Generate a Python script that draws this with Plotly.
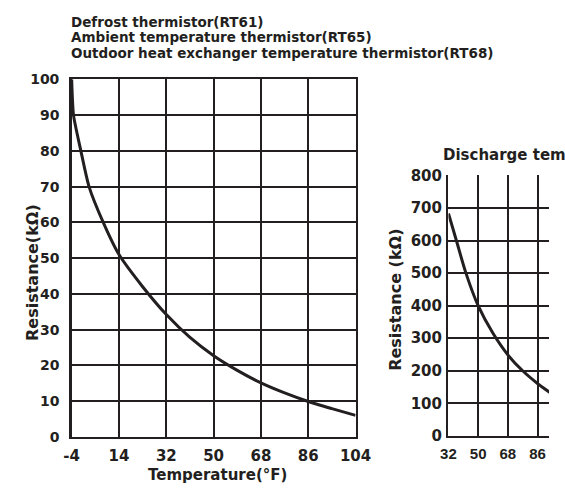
import plotly.graph_objects as go

# ---- data ----
# Defrost / Ambient / Outdoor heat exchanger thermistor (RT61, RT65, RT68)
left_temp_f = [-4, -3.3, -0.5, 2.6, 8, 14, 23, 32, 41, 50, 59, 68, 77, 86, 95, 104]
left_res_k = [100, 90, 80, 70, 60, 51, 42, 34.2, 27.8, 22.7, 18.6, 15.1, 12.3, 9.9, 7.9, 6.0]
left_xticks = [-4, 14, 32, 50, 68, 86, 104]
left_xticktext = ["-4", "14", "32", "50", "68", "86", "104"]
left_yticks = [0, 10, 20, 30, 40, 50, 60, 70, 80, 90, 100]

# Discharge temperature thermistor (cut off at right edge)
right_temp_f = [32, 36.8, 42.6, 50, 59, 68, 77, 86, 95]
right_res_k = [683, 600, 500, 400, 315, 249, 200, 161, 128]
right_xticks = [32, 50, 68, 86, 104, 122, 140]
right_yticks = [0, 100, 200, 300, 400, 500, 600, 700, 800]

title_lines = [
    "Defrost thermistor(RT61)",
    "Ambient temperature thermistor(RT65)",
    "Outdoor heat exchanger temperature thermistor(RT68)",
]
right_title = "Discharge temperature thermistor(RT62)"

W, H = 565, 495
INK = "#231f20"
FONT = "DejaVu Sans"

def px(x):
    return x / W

def py(y):
    return 1 - y / H

fig = go.Figure()
fig.add_trace(go.Scatter(x=left_temp_f, y=left_res_k, mode="lines",
                         line=dict(color=INK, width=3, shape="spline", smoothing=0.6),
                         xaxis="x", yaxis="y", hoverinfo="skip", showlegend=False))
fig.add_trace(go.Scatter(x=right_temp_f, y=right_res_k, mode="lines",
                         line=dict(color=INK, width=3, shape="spline", smoothing=0.8),
                         xaxis="x2", yaxis="y2", hoverinfo="skip", showlegend=False))

axis_common = dict(showgrid=True, gridcolor=INK, gridwidth=2, zeroline=False,
                   showline=True, linecolor=INK, linewidth=2.5, ticks="", ticklen=0,
                   fixedrange=True)

# right panel: 18 degF per 31 px, 32 degF at x=460, cut by the right edge
right_x_end = 32 + (W - 460) / 31 * 18

fig.update_layout(
    width=W, height=H,
    margin=dict(l=0, r=0, t=0, b=0),
    paper_bgcolor="white", plot_bgcolor="white",
    showlegend=False,
    xaxis=dict(axis_common, domain=[px(66.5), px(363)], range=[-4, 104],
               tickvals=left_xticks, ticktext=left_xticktext, mirror=True, anchor="y",
               tickfont=dict(family=FONT, size=15, color=INK, weight="bold"),
               ticklabelstandoff=4),
    yaxis=dict(axis_common, domain=[py(444), py(73)], range=[0, 100],
               tickvals=left_yticks, mirror=True, anchor="x",
               tickfont=dict(family=FONT, size=14, color=INK, weight="bold"),
               ticklabelstandoff=7),
    xaxis2=dict(axis_common, domain=[px(460), 1.0], range=[32, right_x_end],
                tickvals=right_xticks, anchor="y2",
                tickfont=dict(family="Liberation Sans", size=15, color=INK, weight="bold"),
                ticklabelstandoff=3),
    yaxis2=dict(axis_common, domain=[py(443), py(172.7)], range=[0, 800],
                tickvals=right_yticks, anchor="x2",
                tickfont=dict(family=FONT, size=15, color=INK, weight="bold"),
                ticklabelstandoff=1),
)

annots = []
for t, yc in zip(title_lines, [13.5, 29.5, 45.5]):
    annots.append(dict(text=t, x=px(64), y=py(yc), xref="paper", yref="paper",
                       xanchor="left", yanchor="middle", showarrow=False,
                       font=dict(family=FONT, size=13.5, color=INK, weight="bold")))
annots.append(dict(text=right_title, x=px(452), y=py(152), xref="paper", yref="paper",
                   xanchor="left", yanchor="middle", showarrow=False,
                   font=dict(family=FONT, size=15, color=INK, weight="bold")))
annots.append(dict(text="Temperature(°F)", x=px(219), y=py(484), xref="paper", yref="paper",
                   xanchor="center", yanchor="middle", showarrow=False,
                   font=dict(family=FONT, size=15, color=INK, weight="bold")))
annots.append(dict(text="Resistance(kΩ)", x=px(25), y=py(273), xref="paper", yref="paper",
                   xanchor="center", yanchor="middle", showarrow=False, textangle=-90,
                   font=dict(family=FONT, size=16, color=INK, weight="bold")))
annots.append(dict(text="Resistance (kΩ)", x=px(404), y=py(302), xref="paper", yref="paper",
                   xanchor="center", yanchor="middle", showarrow=False, textangle=-90,
                   font=dict(family=FONT, size=16, color=INK, weight="bold")))
fig.update_layout(annotations=annots)

fig.write_html("out.html", config=dict(displayModeBar=False, staticPlot=True),
               post_script="document.body.style.margin='0';"
                           "document.documentElement.style.overflow='hidden';"
                           "document.body.style.overflow='hidden';")
